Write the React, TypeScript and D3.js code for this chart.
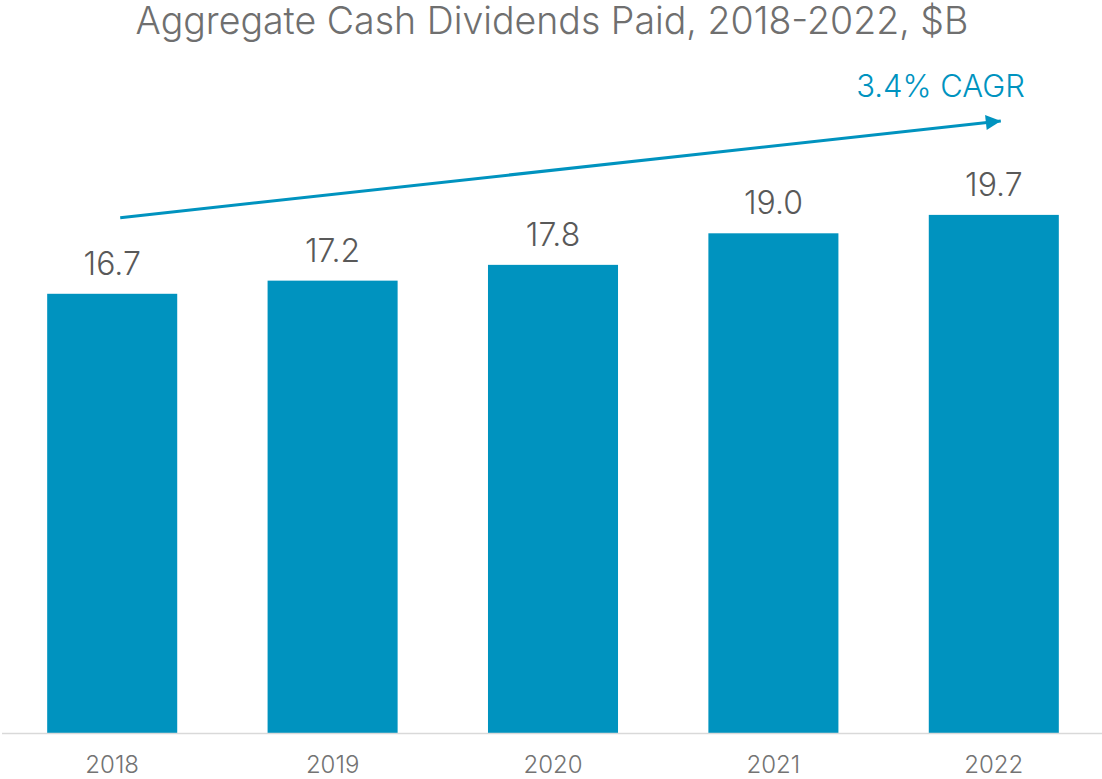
import React, { useEffect, useRef } from 'react';
import * as d3 from 'd3';

const years = ['2018', '2019', '2020', '2021', '2022'];
const dividends = [16.7, 17.2, 17.8, 19.0, 19.7];
const cagrLabel = '3.4% CAGR';
const title = 'Aggregate Cash Dividends Paid, 2018-2022, $B';

const App: React.FC = () => {
    const svgRef = useRef<SVGSVGElement>(null);

    useEffect(() => {
        if (!svgRef.current) return;
        const svg = d3.select(svgRef.current);
        svg.selectAll('*').remove();

        const width = 1102;
        const baseY = 733;
        const blue = '#0093BF';
        const font = 'Inter, "Noto Sans", sans-serif';

        const x = d3.scaleBand<string>()
            .domain(years)
            .range([2, 1104])
            .paddingInner(0.41)
            .paddingOuter(0.205);

        const y = d3.scaleLinear()
            .domain([0, 20])
            .range([baseY, baseY - 526]);

        // タイトル
        svg.append('text')
            .attr('x', 552)
            .attr('y', 34)
            .attr('text-anchor', 'middle')
            .attr('font-family', font)
            .attr('font-weight', 300)
            .attr('font-size', '37.5px')
            .attr('fill', '#6f6f6f')
            .text(title);

        // 棒
        svg.selectAll('rect.bar')
            .data(dividends)
            .enter()
            .append('rect')
            .attr('class', 'bar')
            .attr('x', (_, i) => x(years[i])!)
            .attr('y', d => y(d))
            .attr('width', x.bandwidth())
            .attr('height', d => baseY - y(d))
            .attr('fill', blue);

        // 値ラベル
        svg.selectAll('text.val')
            .data(dividends)
            .enter()
            .append('text')
            .attr('class', 'val')
            .attr('x', (_, i) => x(years[i])! + x.bandwidth() / 2)
            .attr('y', d => y(d) - 19)
            .attr('text-anchor', 'middle')
            .attr('font-family', font)
            .attr('font-weight', 300)
            .attr('font-size', '32px')
            .attr('fill', '#595959')
            .text(d => d.toFixed(1));

        // 軸線
        svg.append('line')
            .attr('x1', 2)
            .attr('x2', width)
            .attr('y1', baseY + 0.5)
            .attr('y2', baseY + 0.5)
            .attr('stroke', '#d9d9d9')
            .attr('stroke-width', 1.5);

        // 年ラベル
        svg.selectAll('text.year')
            .data(years)
            .enter()
            .append('text')
            .attr('class', 'year')
            .attr('x', d => x(d)! + x.bandwidth() / 2)
            .attr('y', 773)
            .attr('text-anchor', 'middle')
            .attr('font-family', font)
            .attr('font-weight', 300)
            .attr('font-size', '24px')
            .attr('fill', '#737373')
            .text(d => d);

        // CAGR 矢印
        const x0 = x(years[0])! + x.bandwidth() / 2 + 8;
        const x1 = x(years[years.length - 1])! + x.bandwidth() / 2 + 7;
        const y0 = y(dividends[0]) - 76;
        const y1 = y(dividends[dividends.length - 1]) - 94;

        const defs = svg.append('defs');
        defs.append('marker')
            .attr('id', 'arrow')
            .attr('viewBox', '0 0 10 10')
            .attr('refX', 10)
            .attr('refY', 5)
            .attr('markerUnits', 'userSpaceOnUse')
            .attr('markerWidth', 16)
            .attr('markerHeight', 15)
            .attr('orient', 'auto')
            .append('path')
            .attr('d', 'M0,0 L10,5 L0,10 Z')
            .attr('fill', blue);

        svg.append('line')
            .attr('x1', x0)
            .attr('y1', y0)
            .attr('x2', x1)
            .attr('y2', y1)
            .attr('stroke', blue)
            .attr('stroke-width', 3)
            .attr('marker-end', 'url(#arrow)');

        svg.append('text')
            .attr('x', 1025)
            .attr('y', 97)
            .attr('text-anchor', 'end')
            .attr('font-family', font)
            .attr('font-weight', 300)
            .attr('font-size', '31px')
            .attr('fill', blue)
            .text(cagrLabel);
    }, []);

    return (
        <div style={{ position: 'absolute', left: 0, top: 0 }}>
            <svg ref={svgRef} width={1102} height={779} style={{ display: 'block' }}></svg>
        </div>
    );
};

export default App;
